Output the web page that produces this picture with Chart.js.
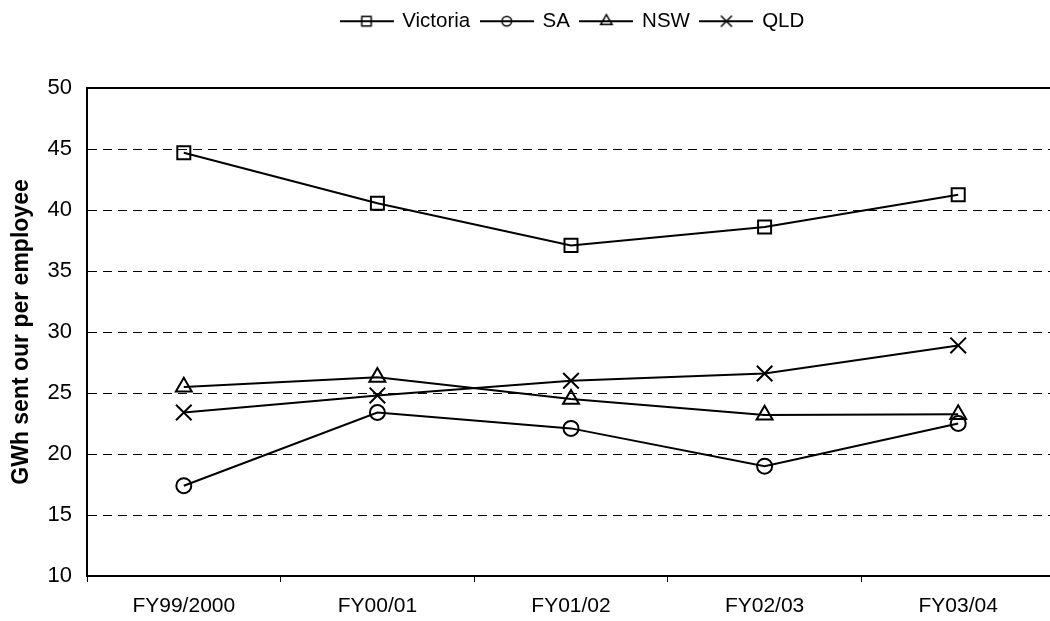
<!DOCTYPE html>
<html>
<head>
<meta charset="utf-8">
<script src="https://cdn.jsdelivr.net/npm/chart.js@4.4.0/dist/chart.umd.min.js"></script>
<style>
  html, body { margin: 0; padding: 0; background: #fff; overflow: hidden; }
</style>
</head>
<body>
<canvas id="gwh-chart" width="1068" height="621"></canvas>
<script>
const years = ['FY99/2000', 'FY00/01', 'FY01/02', 'FY02/03', 'FY03/04'];
const victoria = [44.7, 40.55, 37.1, 38.6, 41.25];
const sa = [17.4, 23.4, 22.1, 19.0, 22.5];
const nsw = [25.5, 26.3, 24.5, 23.2, 23.25];
const qld = [23.4, 24.8, 26.0, 26.6, 28.9];
const yTicks = [10, 15, 20, 25, 30, 35, 40, 45, 50];

Chart.defaults.font.family = '"Liberation Sans", Arial, sans-serif';
Chart.defaults.color = '#000';

// small "line through the marker" pictures for the legend, excel style
const legendSymbol = (style, radius) => {
    const c = document.createElement('canvas');
    c.width = 54;
    c.height = 20;
    const ctx = c.getContext('2d');
    ctx.strokeStyle = '#000';
    ctx.lineWidth = 2;
    ctx.beginPath();
    ctx.moveTo(0, 10);
    ctx.lineTo(54, 10);
    ctx.stroke();
    ctx.fillStyle = 'rgba(0,0,0,0)';
    ctx.lineWidth = 1.5;
    Chart.helpers.drawPoint(ctx, {pointStyle: style, radius: radius, rotation: 0, borderWidth: 1.5}, 27, 10);
    return c;
}
const symbols = [
    legendSymbol('rect', 6.6),
    legendSymbol('circle', 4.8),
    legendSymbol('triangle', 6.6),
    legendSymbol('crossRot', 7.8)
];

const makeSet = (label, data, style, radius) => ({
    label: label,
    data: data,
    pointStyle: style,
    pointRadius: radius,
    pointHoverRadius: radius,
    borderColor: '#000',
    borderWidth: 2,
    pointBorderColor: '#000',
    pointBorderWidth: 2,
    pointBackgroundColor: 'rgba(0,0,0,0)',
    backgroundColor: 'rgba(0,0,0,0)',
    fill: false,
    tension: 0
});

// keep legend where excel put it and leave the gap above the plot
const legendPlacement = {
    id: 'legendPlacement',
    beforeInit(chart) {
        const origFit = chart.legend.fit;
        chart.legend.fit = function () {
            origFit.call(this);
            this.height = 88;
        };
    },
    afterLayout(chart) {
        chart.legend.left = 330;
    }
};

new Chart(document.querySelector('#gwh-chart').getContext('2d'), {
    type: 'line',
    data: {
        labels: years,
        datasets: [
            makeSet('Victoria', victoria, 'rect', 9.2),
            makeSet('SA', sa, 'circle', 7.5),
            makeSet('NSW', nsw, 'triangle', 9.2),
            makeSet('QLD', qld, 'crossRot', 11)
        ]
    },
    plugins: [legendPlacement],
    options: {
        responsive: false,
        animation: false,
        layout: { padding: { left: 0, right: 6, top: 0, bottom: 0 } },
        plugins: {
            tooltip: { enabled: false },
            legend: {
                position: 'top',
                align: 'start',
                labels: {
                    usePointStyle: true,
                    pointStyleWidth: 51,
                    padding: 11,
                    font: { size: 20.5 },
                    color: '#000',
                    generateLabels: (chart) => Chart.defaults.plugins.legend.labels.generateLabels(chart)
                        .map((item, i) => Object.assign(item, { pointStyle: symbols[i] }))
                }
            }
        },
        scales: {
            x: {
                type: 'category',
                offset: true,
                grid: {
                    display: true,
                    drawOnChartArea: false,
                    drawTicks: true,
                    tickLength: 6,
                    tickColor: '#000',
                    tickWidth: 1,
                    offset: true
                },
                border: { display: true, color: '#000', width: 2 },
                ticks: { font: { size: 21 }, padding: 12, maxRotation: 0, autoSkip: false },
                afterFit: (axis) => { axis.height = 45; }
            },
            xTop: {
                type: 'category',
                position: 'top',
                offset: true,
                grid: { display: false },
                ticks: { display: false },
                border: { display: true, color: '#000', width: 2 },
                afterFit: (axis) => { axis.height = 0; }
            },
            y: {
                min: 10,
                max: 50,
                afterBuildTicks: (axis) => { axis.ticks = yTicks.map(v => ({ value: v })); },
                grid: {
                    color: (ctx) => ctx.tick && ctx.tick.value === 50 ? 'rgba(0,0,0,0)' : '#000',
                    lineWidth: 1,
                    drawTicks: false,
                    borderDash: [9, 6]
                },
                border: { display: true, color: '#000', width: 2, dash: [9, 6] },
                ticks: { font: { size: 22 }, padding: 15 },
                title: {
                    display: true,
                    text: 'GWh sent our per employee',
                    font: { size: 23, weight: 'bold' },
                    padding: { top: 8, bottom: 0 }
                },
                afterFit: (axis) => { axis.width = 87; }
            }
        }
    }
});
</script>
</body>
</html>
